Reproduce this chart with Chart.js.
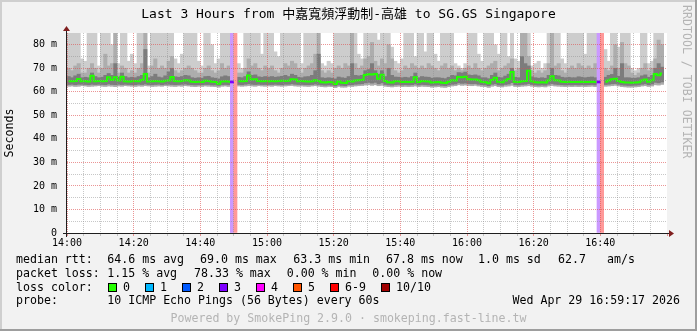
<!DOCTYPE html>
<html lang="en">
<head>
<meta charset="UTF-8" />
<title>SmokePing - Last 3 Hours</title>
<script src="https://cdn.jsdelivr.net/npm/chart.js"></script>
<style>
  html, body { margin: 0; padding: 0; background: #f2f2f2; }
  canvas { display: block; }
</style>
</head>
<body>
<canvas id="smoke" width="697" height="331"></canvas>
<script>
// one value per minute starting 14:00 (ms)
const timeLabels = ['14:00', '14:20', '14:40', '15:00', '15:20', '15:40', '16:00', '16:20', '16:40']

const median = [
  64.6, 64.5, 64.6, 65.4, 64.5, 64.6, 64.4, 66.8, 64.5, 64.6,
  64.5, 64.6, 66.2, 65.0, 66.2, 64.8, 66.4, 64.5, 64.4, 64.5,
  64.6, 64.5, 65.0, 67.6, 64.4, 64.5, 64.6, 64.5, 64.4, 64.7,
  64.8, 66.3, 64.6, 64.5, 64.6, 64.9, 64.8, 64.3, 64.2, 64.3,
  64.2, 64.7, 64.6, 64.3, 64.2, 63.4, 64.4, 64.5, 64.4, 64.2,
  null, 64.6, 64.5, 64.6, 66.9, 65.2, 65.3, 64.6, 64.5, 64.6,
  64.5, 64.6, 64.5, 64.6, 64.7, 64.6, 64.7, 65.3, 65.2, 64.5,
  64.6, 64.5, 64.4, 64.5, 64.9, 64.6, 64.1, 64.0, 64.2, 64.1,
  63.3, 64.4, 63.9, 63.8, 64.5, 64.4, 64.8, 64.9, 65.0, 67.2,
  67.5, 67.4, 67.6, 65.6, 67.3, 64.6, 64.1, 64.0, 64.5, 64.5,
  64.2, 64.3, 64.2, 64.3, 66.2, 64.2, 64.6, 64.5, 64.4, 64.0,
  64.1, 64.2, 63.9, 63.8, 64.3, 64.9, 64.8, 66.3, 66.2, 66.4,
  65.3, 65.2, 65.2, 64.9, 64.3, 64.1, 63.6, 65.0, 66.0, 64.3,
  64.1, 64.8, 65.4, 68.4, 64.3, 64.2, 64.5, 64.6, 69.0, 64.5,
  64.1, 64.0, 64.1, 64.0, 64.8, 66.6, 64.9, 64.8, 64.3, 64.2,
  64.3, 64.2, 64.2, 64.2, 64.3, 64.2, 64.2, 64.3, 64.2, 64.2,
  null, 64.3, 64.8, 65.3, 65.6, 64.6, 64.2, 64.0, 64.0, 63.9,
  64.0, 64.1, 64.8, 65.2, 64.3, 64.9, 67.6, 67.0, 67.8
]

// slowest ping of each minute (85 = off the top of the graph)
const pingMax = [
  85, 85, 85, 85, 74, 73, 85, 85, 85, 71,
  85, 85, 85, 80, 85, 72, 85, 85, 73, 76,
  72, 85, 85, 85, 71, 85, 85, 85, 85, 85,
  85, 85, 74, 72, 76, 85, 85, 85, 85, 73,
  71, 85, 85, 80, 72, 74, 85, 85, 85, 85,
  null, 72, 70, 85, 85, 85, 85, 85, 76, 85,
  85, 85, 77, 75, 85, 85, 85, 85, 85, 85,
  72, 85, 85, 85, 85, 73, 72, 71, 73, 72,
  85, 85, 85, 85, 85, 85, 85, 76, 74, 85,
  85, 85, 85, 82, 85, 85, 85, 79, 73, 72,
  74, 85, 85, 85, 75, 85, 85, 77, 85, 85,
  76, 73, 85, 85, 85, 85, 72, 71, 70, 72,
  85, 85, 85, 76, 73, 85, 85, 85, 80, 76,
  85, 85, 75, 85, 74, 73, 85, 85, 85, 71,
  72, 73, 70, 72, 85, 85, 85, 85, 74, 72,
  85, 85, 85, 85, 85, 76, 85, 85, 85, 85,
  null, 78, 73, 85, 85, 79, 85, 85, 85, 70,
  69, 70, 85, 85, 72, 73, 85, 85, 85
]

// upper edge of the middle smoke band
const pingMid = [
  70, 69, 71, 72, 68, 68, 70, 72, 70, 68,
  70, 76, 71, 72, 85, 68, 71, 70, 68, 69,
  68, 70, 72, 85, 68, 71, 74, 70, 71, 70,
  73, 75, 69, 68, 69, 70, 71, 70, 69, 68,
  68, 70, 71, 69, 68, 69, 72, 70, 71, 70,
  null, 68, 68, 70, 74, 71, 72, 70, 69, 71,
  70, 71, 69, 68, 70, 72, 71, 73, 72, 70,
  68, 70, 71, 72, 76, 85, 69, 68, 69, 68,
  70, 71, 70, 72, 71, 85, 72, 70, 71, 74,
  75, 81, 73, 71, 74, 72, 80, 74, 69, 68,
  69, 71, 70, 72, 71, 70, 71, 70, 72, 71,
  70, 69, 71, 72, 70, 71, 69, 70, 69, 70,
  71, 70, 72, 70, 69, 70, 71, 72, 73, 69,
  70, 71, 72, 74, 69, 70, 85, 85, 75, 69,
  68, 69, 68, 69, 72, 85, 71, 72, 69, 68,
  70, 71, 70, 72, 71, 70, 71, 70, 72, 71,
  null, 70, 69, 71, 80, 70, 81, 72, 71, 68,
  67, 68, 70, 72, 69, 70, 74, 82, 80
]

// upper edge of the dark smoke band around the median
const pingDark = [
  66.5, 66.0, 66.8, 67.5, 66.0, 66.2, 66.0, 68.0, 66.5, 66.0,
  66.2, 67.0, 67.8, 67.0, 72.0, 66.3, 68.0, 66.5, 66.0, 66.2,
  66.0, 66.5, 67.0, 78.0, 66.0, 66.5, 67.5, 66.3, 66.0, 66.8,
  68.5, 70.0, 66.4, 66.2, 66.5, 67.0, 66.8, 66.0, 65.8, 66.0,
  65.8, 66.5, 66.6, 66.0, 65.8, 65.5, 66.4, 66.8, 66.5, 66.0,
  null, 66.2, 66.0, 66.5, 68.5, 67.0, 67.2, 66.4, 66.2, 66.5,
  66.3, 66.5, 66.2, 66.4, 66.6, 67.0, 66.5, 67.5, 67.0, 66.2,
  66.0, 66.4, 66.5, 67.0, 69.0, 76.0, 66.0, 65.8, 66.0, 65.8,
  65.5, 66.3, 66.0, 65.8, 66.5, 72.0, 67.0, 66.8, 67.0, 69.0,
  69.5, 72.0, 69.0, 67.5, 69.0, 66.5, 70.0, 67.0, 66.3, 66.2,
  66.0, 66.2, 66.0, 66.5, 68.0, 66.0, 66.5, 66.3, 66.2, 65.8,
  66.0, 66.0, 65.8, 65.6, 66.2, 67.0, 66.8, 68.2, 68.0, 68.4,
  67.2, 67.0, 67.2, 66.8, 66.0, 66.0, 65.6, 67.0, 68.0, 66.2,
  66.0, 66.7, 67.5, 70.0, 66.2, 66.0, 75.0, 72.0, 71.0, 66.4,
  66.0, 65.8, 66.0, 65.8, 67.0, 70.0, 67.0, 66.8, 66.2, 66.0,
  66.2, 66.0, 66.0, 66.4, 66.2, 66.0, 66.2, 66.3, 66.0, 66.0,
  null, 66.2, 67.0, 67.4, 70.0, 66.6, 72.0, 66.0, 66.0, 65.8,
  65.8, 66.0, 66.8, 67.2, 66.2, 67.0, 70.0, 72.0, 70.5
]

// fastest ping of each minute
const pingMin = [
  62.4, 62.5, 62.3, 62.4, 62.6, 62.5, 62.3, 62.4, 62.5, 62.6,
  62.4, 62.3, 62.5, 62.4, 62.2, 62.5, 62.4, 62.6, 62.5, 62.4,
  62.3, 62.5, 62.4, 62.6, 62.5, 62.3, 62.4, 62.5, 62.4, 62.6,
  62.5, 62.4, 62.3, 62.5, 62.4, 62.6, 62.5, 62.3, 62.2, 62.4,
  62.3, 62.5, 62.4, 62.3, 62.2, 62.0, 62.4, 62.5, 62.3, 62.4,
  null, 62.5, 62.4, 62.5, 62.6, 62.5, 62.4, 62.6, 62.5, 62.4,
  62.5, 62.4, 62.6, 62.5, 62.4, 62.5, 62.6, 62.7, 62.5, 62.4,
  62.5, 62.4, 62.3, 62.5, 62.6, 62.4, 62.2, 62.1, 62.3, 62.2,
  61.8, 62.3, 62.0, 62.0, 62.4, 62.3, 62.5, 62.6, 62.7, 62.9,
  63.0, 62.8, 63.0, 62.6, 62.8, 62.4, 62.2, 62.1, 62.3, 62.4,
  62.2, 62.3, 62.2, 62.3, 62.5, 62.2, 62.4, 62.3, 62.2, 62.0,
  62.1, 62.2, 62.0, 61.9, 62.2, 62.5, 62.6, 63.0, 62.8, 62.9,
  62.7, 62.6, 62.8, 62.5, 62.3, 62.2, 61.9, 62.4, 62.6, 62.2,
  62.1, 62.4, 62.5, 62.8, 62.3, 62.2, 62.4, 62.5, 62.6, 62.4,
  62.2, 62.1, 62.2, 62.1, 62.5, 62.7, 62.5, 62.4, 62.3, 62.2,
  62.3, 62.2, 62.3, 62.2, 62.3, 62.2, 62.3, 62.4, 62.2, 62.3,
  null, 62.4, 62.5, 62.6, 62.8, 62.5, 62.2, 62.1, 62.0, 62.0,
  62.1, 62.2, 62.5, 62.6, 62.3, 62.5, 63.0, 62.9, 63.2
]

// lower edge of the dark smoke band
const pingLow = [
  63.1, 63.2, 63.0, 63.2, 63.2, 63.1, 63.0, 63.2, 63.1, 63.2,
  63.1, 63.0, 63.3, 63.1, 63.0, 63.2, 63.1, 63.2, 63.1, 63.0,
  63.0, 63.2, 63.1, 63.3, 63.1, 63.0, 63.1, 63.2, 63.0, 63.2,
  63.2, 63.1, 63.0, 63.1, 63.2, 63.3, 63.1, 63.0, 62.9, 63.0,
  63.0, 63.1, 63.1, 62.9, 62.9, 62.7, 63.0, 63.1, 63.0, 63.0,
  null, 63.1, 63.0, 63.2, 63.4, 63.2, 63.1, 63.2, 63.1, 63.1,
  63.1, 63.1, 63.2, 63.1, 63.0, 63.2, 63.2, 63.4, 63.2, 63.1,
  63.1, 63.0, 63.0, 63.1, 63.3, 63.1, 62.9, 62.8, 62.9, 62.8,
  62.5, 62.9, 62.7, 62.6, 63.0, 63.0, 63.2, 63.3, 63.4, 63.8,
  64.0, 63.7, 64.0, 63.4, 63.8, 63.1, 62.9, 62.8, 63.0, 63.1,
  62.9, 63.0, 62.9, 63.0, 63.3, 62.9, 63.1, 63.0, 62.9, 62.7,
  62.8, 62.9, 62.7, 62.6, 62.9, 63.2, 63.3, 63.8, 63.6, 63.7,
  63.5, 63.4, 63.5, 63.2, 63.0, 62.9, 62.6, 63.2, 63.4, 62.9,
  62.8, 63.1, 63.3, 63.9, 63.0, 62.9, 63.1, 63.2, 63.5, 63.1,
  62.9, 62.8, 62.9, 62.8, 63.2, 63.5, 63.2, 63.1, 63.0, 62.9,
  63.0, 62.9, 63.0, 62.9, 63.0, 62.9, 63.0, 63.1, 62.9, 63.0,
  null, 63.1, 63.2, 63.4, 63.5, 63.2, 62.9, 62.8, 62.7, 62.7,
  62.8, 62.9, 63.2, 63.4, 63.0, 63.3, 64.0, 63.8, 64.2
]

// minutes with packet loss and their loss-colour bucket
const lossMinutes = [49, 50, 159, 160]
const lossLevel = [3, 6, 3, 6]

const lossLabels = ['0', '1', '2', '3', '4', '5', '6-9', '10/10']
const lossColors = ['#26ff00', '#00b8ff', '#0059ff', '#7e00ff', '#ff00ff', '#ff5500', '#ff0000', '#a00000']
const lossShade = ['#a8ff99', '#99e3ff', '#99bdff', '#cb99ff', '#ff99ff', '#ffbb99', '#ff9999', '#d99999']

const Y_MAX = 85
const X_SPAN = 180
const PLOT = { left: 67, top: 33, right: 667, bottom: 233 }
const MONO = "'DejaVu Sans Mono', 'Noto Sans CJK TC', monospace"
const GRID_MINOR = 'rgba(143,143,143,0.5)'
const GRID_MAJOR = 'rgba(222,79,79,0.6)'

const minuteIdx = median.map((_, i) => i)

function band(lo, hi) {
  return minuteIdx
    .filter((i) => lo[i] != null && hi[i] != null)
    .map((i) => ({ x: i + 0.5, y: [lo[i], hi[i]] }))
}

const barCommon = {
  type: 'bar',
  grouped: false,
  borderWidth: 0,
  barPercentage: 1,
  categoryPercentage: 1,
}

const lossMarks = lossMinutes.map((m, k) => ({ m, k })).filter((o) => median[o.m] != null)

const datasets = [
  {
    ...barCommon,
    label: 'median at loss',
    data: lossMarks.map((o) => ({ x: o.m + 0.5, y: [median[o.m] - 0.45, median[o.m] + 0.45] })),
    backgroundColor: lossMarks.map((o) => lossColors[lossLevel[o.k]]),
    order: 0,
  },
  {
    ...barCommon,
    label: 'loss',
    data: lossMinutes.map((m) => ({ x: m + 0.5, y: [0, Y_MAX] })),
    backgroundColor: lossLevel.map((l) => lossShade[l]),
    order: 1,
  },
  {
    type: 'line',
    label: 'median rtt',
    data: minuteIdx.map((i) => ({ x: i + 0.5, y: median[i] })),
    borderColor: '#22ff00',
    borderWidth: 2,
    pointRadius: 0,
    stepped: 'middle',
    fill: false,
    spanGaps: false,
    order: 2,
  },
  { ...barCommon, label: 'dark', data: band(pingLow, pingDark), backgroundColor: '#7c7c7c', order: 3 },
  { ...barCommon, label: 'mid', data: band(pingMin, pingMid), backgroundColor: '#adadad', order: 4 },
  { ...barCommon, label: 'light', data: band(pingMin, pingMax), backgroundColor: '#cdcdcd', order: 5 },
]

const frame = {
  id: 'frame',
  beforeDraw(chart) {
    const { ctx, chartArea: a } = chart
    ctx.save()
    ctx.fillStyle = '#f2f2f2'
    ctx.fillRect(0, 0, chart.width, chart.height)
    ctx.fillStyle = '#ffffff'
    ctx.fillRect(a.left, a.top, a.right - a.left, a.bottom - a.top)
    ctx.restore()
  },
  afterDraw(chart) {
    const { ctx, chartArea: a } = chart
    const W = chart.width
    const H = chart.height
    ctx.save()

    // axes with arrows
    ctx.strokeStyle = '#1f1f1f'
    ctx.lineWidth = 1
    ctx.beginPath()
    ctx.moveTo(a.left - 4, a.bottom + 0.5)
    ctx.lineTo(a.right + 4, a.bottom + 0.5)
    ctx.moveTo(a.left - 0.5, a.bottom + 4)
    ctx.lineTo(a.left - 0.5, a.top - 4)
    ctx.stroke()
    ctx.fillStyle = '#801f1f'
    ctx.beginPath()
    ctx.moveTo(a.right + 2, a.bottom - 3)
    ctx.lineTo(a.right + 7, a.bottom + 0.5)
    ctx.lineTo(a.right + 2, a.bottom + 4)
    ctx.closePath()
    ctx.fill()
    ctx.beginPath()
    ctx.moveTo(a.left - 4, a.top - 2)
    ctx.lineTo(a.left - 0.5, a.top - 7)
    ctx.lineTo(a.left + 3, a.top - 2)
    ctx.closePath()
    ctx.fill()

    // legend block
    ctx.font = '11.6px ' + MONO
    ctx.textBaseline = 'middle'
    ctx.textAlign = 'left'
    ctx.fillStyle = '#000'
    const rows = [
      [259.5, [[16, 'median rtt:'], [107.3, '64.6 ms avg'], [200, '69.0 ms max'], [293.3, '63.3 ms min'],
        [386, '67.8 ms now'], [478, '1.0 ms sd'], [558, '62.7'], [607, 'am/s']]],
      [273.5, [[16, 'packet loss:'], [107.3, '1.15 % avg'], [194, '78.33 % max'], [286.7, '0.00 % min'],
        [372.3, '0.00 % now']]],
      [287.5, [[16, 'loss color:']]],
      [301.3, [[16, 'probe:'], [107.3, '10 ICMP Echo Pings (56 Bytes) every 60s']]],
    ]
    rows.forEach(([y, items]) => items.forEach(([x, t]) => ctx.fillText(t, x, y)))

    const boxX = [108, 145, 182, 219, 256, 293, 330, 381]
    lossLabels.forEach((lab, i) => {
      ctx.fillStyle = '#000'
      ctx.fillRect(boxX[i], 283, 9, 9)
      ctx.fillStyle = lossColors[i]
      ctx.fillRect(boxX[i] + 1, 284, 7, 7)
      ctx.fillStyle = '#000'
      ctx.fillText(lab, boxX[i] + 15, 287.5)
    })

    ctx.textAlign = 'right'
    ctx.fillText('Wed Apr 29 16:59:17 2026', 680, 301.3)

    ctx.textAlign = 'center'
    ctx.fillStyle = '#b4b4b4'
    ctx.fillText('Powered by SmokePing 2.9.0 \u00b7 smokeping.fast-line.tw', 348.5, 318.5)

    // watermark on the right edge
    ctx.save()
    ctx.translate(686, 5)
    ctx.rotate(Math.PI / 2)
    ctx.textAlign = 'left'
    ctx.fillStyle = '#b4b4b4'
    ctx.fillText('RRDTOOL / TOBI OETIKER', 0, 0)
    ctx.restore()

    // shaded frame
    ctx.fillStyle = '#cfcfcf'
    ctx.fillRect(0, 0, W, 2)
    ctx.fillRect(0, 0, 2, H)
    ctx.fillStyle = '#9e9e9e'
    ctx.fillRect(0, H - 2, W, 2)
    ctx.fillRect(W - 2, 0, 2, H)
    ctx.restore()
  },
}

new Chart(document.getElementById('smoke'), {
  type: 'bar',
  data: { datasets },
  plugins: [frame],
  options: {
    responsive: false,
    animation: false,
    events: [],
    layout: { padding: 0 },
    plugins: {
      legend: { display: false },
      tooltip: { enabled: false },
      title: {
        display: true,
        text: 'Last 3 Hours from 中嘉寬頻浮動制-高雄 to SG.GS Singapore',
        color: '#000',
        font: { family: MONO, size: 13, weight: 'normal' },
        padding: { top: 7, bottom: 10.4 },
      },
    },
    scales: {
      x: {
        type: 'linear',
        min: 0,
        max: X_SPAN,
        offset: false,
        afterFit: (s) => { s.height = 331 - PLOT.bottom },
        grid: {
          offset: false,
          z: 1,
          drawTicks: true,
          tickLength: 3,
          color: (c) => (c.tick.value >= X_SPAN ? 'transparent' : c.tick.value % 20 === 0 ? GRID_MAJOR : GRID_MINOR),
          tickColor: (c) => (c.tick.value % 20 === 0 ? GRID_MAJOR : GRID_MINOR),
        },
        border: { display: false, dash: [1, 1] },
        ticks: {
          stepSize: 5,
          autoSkip: false,
          maxRotation: 0,
          padding: 1,
          color: '#000',
          font: { family: MONO, size: 10 },
          callback: (v) => (v % 20 === 0 && v / 20 < timeLabels.length ? timeLabels[v / 20] : ''),
        },
      },
      y: {
        min: 0,
        max: Y_MAX,
        afterFit: (s) => { s.width = PLOT.left },
        grid: {
          z: 1,
          drawTicks: false,
          color: (c) => (c.tick.value >= Y_MAX ? 'transparent' : c.tick.value % 10 === 0 ? GRID_MAJOR : GRID_MINOR),
        },
        border: { display: false, dash: [1, 1] },
        ticks: {
          stepSize: 5,
          autoSkip: false,
          padding: 10,
          color: '#000',
          font: { family: MONO, size: 10 },
          callback: (v) => (v % 10 !== 0 || v >= Y_MAX ? '' : v === 0 ? '0' : v + ' m'),
        },
        title: {
          display: true,
          text: 'Seconds',
          color: '#000',
          font: { family: MONO, size: 11.6 },
          padding: { top: 3, bottom: 0 },
        },
      },
      // empty right-hand box that keeps room for the watermark
      yRight: {
        position: 'right',
        display: true,
        min: 0,
        max: Y_MAX,
        afterFit: (s) => { s.width = 697 - PLOT.right },
        grid: { display: false, drawTicks: false },
        border: { display: false },
        ticks: { display: false },
      },
    },
  },
})
</script>
</body>
</html>
